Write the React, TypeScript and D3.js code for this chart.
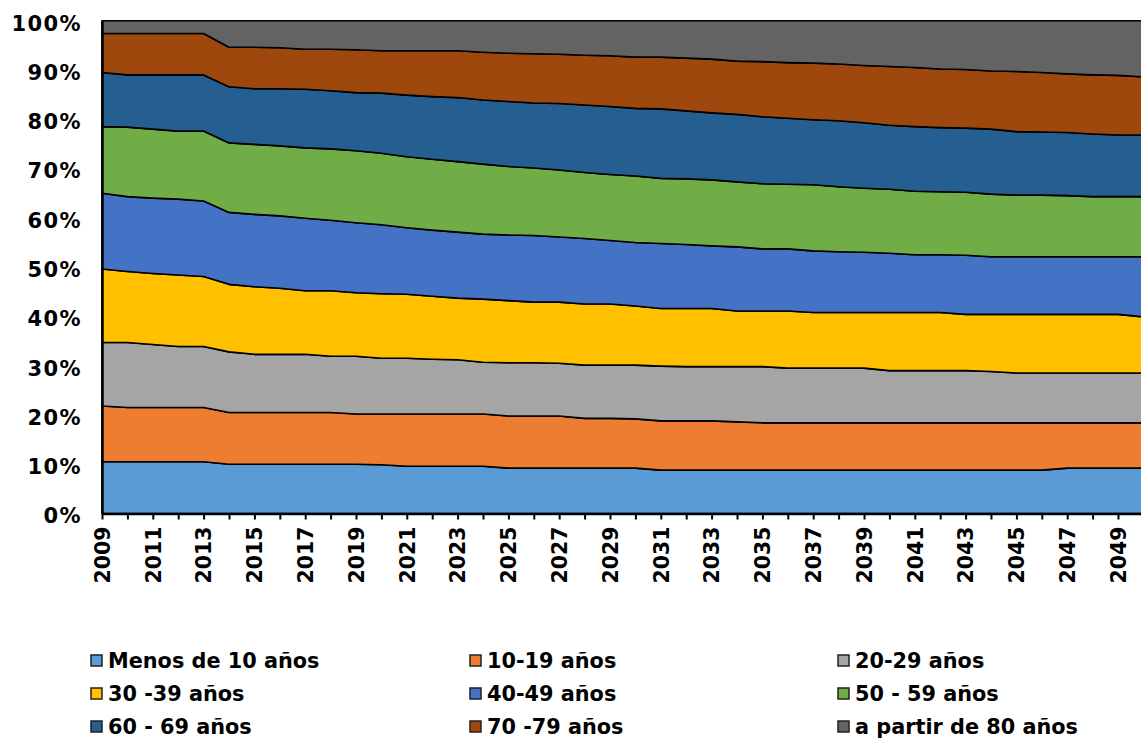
import { useEffect, useRef } from 'react'
import * as d3 from 'd3'

const years = d3.range(2009, 2051)

const seriesNames = [
  'Menos de 10 años',
  '10-19 años',
  '20-29 años',
  '30 -39 años',
  '40-49 años',
  '50 - 59 años',
  '60 - 69 años',
  '70 -79 años',
  'a partir de 80 años',
]

const seriesColors = [
  '#5B9BD5', '#ED7D31', '#A5A5A5', '#FFC000', '#4472C4',
  '#70AD47', '#255E91', '#9E480E', '#636363',
]

// shares per year, 2009 .. 2050 (percent)
const menos10 = [
  10.5, 10.5, 10.5, 10.5, 10.5, 10.0, 10.0, 10.0, 10.0, 10.0, 10.0, 9.9, 9.6, 9.6,
  9.6, 9.6, 9.2, 9.2, 9.2, 9.2, 9.2, 9.2, 8.8, 8.8, 8.8, 8.8, 8.8, 8.8, 8.8, 8.8,
  8.8, 8.8, 8.8, 8.8, 8.8, 8.8, 8.8, 8.8, 9.2, 9.2, 9.2, 9.2,
]
const a10_19 = [
  11.3, 11.0, 11.0, 11.0, 11.0, 10.5, 10.5, 10.5, 10.5, 10.5, 10.2, 10.3, 10.6, 10.6,
  10.6, 10.6, 10.6, 10.6, 10.6, 10.1, 10.1, 10.0, 10.0, 10.0, 10.0, 9.8, 9.6, 9.6,
  9.6, 9.6, 9.6, 9.6, 9.6, 9.6, 9.6, 9.6, 9.6, 9.6, 9.2, 9.2, 9.2, 9.2,
]
const a20_29 = [
  12.9, 13.2, 12.8, 12.4, 12.4, 12.3, 11.8, 11.8, 11.8, 11.4, 11.7, 11.3, 11.3, 11.1,
  11.0, 10.5, 10.8, 10.8, 10.7, 10.8, 10.8, 10.9, 11.1, 11.0, 11.0, 11.2, 11.4, 11.1,
  11.1, 11.1, 11.1, 10.6, 10.6, 10.6, 10.6, 10.4, 10.1, 10.1, 10.1, 10.1, 10.1, 10.1,
]
const a30_39 = [
  14.9, 14.4, 14.4, 14.5, 14.2, 13.7, 13.7, 13.4, 12.9, 13.3, 12.9, 13.1, 13.0, 12.8,
  12.5, 12.8, 12.6, 12.3, 12.4, 12.4, 12.4, 12.0, 11.7, 11.8, 11.8, 11.3, 11.3, 11.6,
  11.3, 11.3, 11.3, 11.8, 11.8, 11.8, 11.4, 11.6, 11.9, 11.9, 11.9, 11.9, 11.9, 11.4,
]
const a40_49 = [
  15.4, 15.2, 15.3, 15.4, 15.3, 14.6, 14.7, 14.7, 14.7, 14.3, 14.2, 14.0, 13.5, 13.4,
  13.4, 13.2, 13.3, 13.5, 13.2, 13.3, 12.9, 12.9, 13.2, 13.0, 12.7, 13.0, 12.6, 12.6,
  12.5, 12.3, 12.2, 12.0, 11.7, 11.7, 12.0, 11.7, 11.7, 11.7, 11.7, 11.7, 11.7, 12.2,
]
const a50_59 = [
  13.5, 14.1, 14.0, 13.8, 14.2, 14.1, 14.2, 14.2, 14.3, 14.5, 14.6, 14.5, 14.4, 14.4,
  14.3, 14.2, 13.9, 13.7, 13.6, 13.4, 13.4, 13.5, 13.2, 13.3, 13.4, 13.2, 13.2, 13.1,
  13.4, 13.2, 13.0, 13.0, 12.9, 12.8, 12.8, 12.7, 12.5, 12.5, 12.4, 12.2, 12.2, 12.2,
]
const a60_69 = [
  11.0, 10.6, 11.0, 11.4, 11.4, 11.4, 11.3, 11.6, 11.9, 11.8, 11.8, 12.2, 12.5, 12.7,
  13.0, 13.0, 13.2, 13.2, 13.5, 13.7, 13.8, 13.7, 14.1, 13.8, 13.6, 13.7, 13.6, 13.4,
  13.2, 13.4, 13.3, 13.0, 13.1, 13.0, 13.0, 13.2, 12.9, 12.8, 12.8, 12.7, 12.5, 12.5,
]
const a70_79 = [
  7.9, 8.4, 8.4, 8.4, 8.4, 8.0, 8.4, 8.3, 8.1, 8.4, 8.7, 8.6, 9.0, 9.3,
  9.5, 9.7, 9.8, 10.0, 10.0, 10.1, 10.3, 10.4, 10.5, 10.7, 10.9, 10.8, 11.2, 11.3,
  11.5, 11.5, 11.6, 11.9, 12.0, 11.9, 11.9, 11.8, 12.2, 12.1, 11.9, 12.0, 12.1, 11.8,
]
const a80plus = [
  2.6, 2.6, 2.6, 2.6, 2.6, 5.4, 5.4, 5.5, 5.8, 5.8, 5.9, 6.1, 6.1, 6.1,
  6.1, 6.4, 6.6, 6.7, 6.8, 7.0, 7.1, 7.4, 7.4, 7.6, 7.8, 8.2, 8.3, 8.5,
  8.6, 8.8, 9.1, 9.3, 9.5, 9.8, 9.9, 10.2, 10.3, 10.5, 10.8, 11.0, 11.1, 11.4,
]

const seriesValues = [menos10, a10_19, a20_29, a30_39, a40_49, a50_59, a60_69, a70_79, a80plus]

const yTicks = d3.range(0, 1.0001, 0.1)

function StackedAreaChart() {
  const svgRef = useRef<SVGSVGElement>(null)

  useEffect(() => {
    if (!svgRef.current) return
    const svg = d3.select(svgRef.current)
    svg.selectAll('*').remove()

    const font = '"DejaVu Sans", Verdana, sans-serif'

    const rows = years.map((year, i) => {
      const row: Record<string, number> = { year }
      seriesNames.forEach((name, s) => { row[name] = seriesValues[s][i] })
      return row
    })

    const stacked = d3.stack<Record<string, number>>()
      .keys(seriesNames)
      .offset(d3.stackOffsetExpand)(rows)

    const x = d3.scaleLinear().domain([2009, 2050]).range([102, 1143.4])
    const y = d3.scaleLinear().domain([0, 1]).range([513.5, 20.7])

    const area = d3.area<d3.SeriesPoint<Record<string, number>>>()
      .x(d => x(d.data.year))
      .y0(d => y(d[0]))
      .y1(d => y(d[1]))

    svg.append('g')
      .selectAll('path')
      .data(stacked)
      .enter()
      .append('path')
      .attr('d', area)
      .attr('fill', (d, i) => seriesColors[i])
      .attr('stroke', '#000')
      .attr('stroke-width', 1.6)
      .attr('stroke-linejoin', 'round')

    // y axis
    const yAxis = svg.append('g')
      .attr('transform', `translate(${x(2009)},0)`)
      .call(d3.axisLeft(y).tickValues(yTicks).tickSize(0).tickPadding(20).tickFormat(d3.format('.0%')))
    yAxis.select('.domain').attr('stroke', '#000').attr('stroke-width', 2.5)
    yAxis.selectAll('text')
      .attr('dy', '0.45em')
      .style('font-family', font)
      .style('font-weight', 'bold')
      .style('font-size', '21px')
      .style('letter-spacing', '1.4px')
      .style('fill', '#000')

    // x axis
    const xAxis = svg.append('g')
      .attr('transform', `translate(0,${y(0)})`)
      .call(
        d3.axisBottom(x)
          .tickValues(years)
          .tickSize(6)
          .tickSizeOuter(0)
          .tickFormat(d => ((d as number) - 2009) % 2 === 0 ? String(d) : '')
      )
    xAxis.select('.domain').attr('stroke', '#000').attr('stroke-width', 2.5)
    xAxis.selectAll('.tick line').attr('stroke', '#000').attr('stroke-width', 2)
    xAxis.selectAll('text')
      .attr('transform', 'rotate(-90)')
      .attr('x', -13)
      .attr('y', 0)
      .attr('dy', '0.36em')
      .style('text-anchor', 'end')
      .style('font-family', font)
      .style('font-weight', 'bold')
      .style('font-size', '20.5px')
      .style('fill', '#000')

    // legend, 3 columns x 3 rows
    const legendCols = [91, 470, 838]
    const legendRows = [661, 694, 727]
    const legend = svg.append('g')
    seriesNames.forEach((name, i) => {
      const lx = legendCols[i % 3]
      const ly = legendRows[Math.floor(i / 3)]
      legend.append('rect')
        .attr('x', lx)
        .attr('y', ly - 6)
        .attr('width', 11)
        .attr('height', 11)
        .attr('fill', seriesColors[i])
        .attr('stroke', '#222')
        .attr('stroke-width', 1.5)
      legend.append('text')
        .attr('x', lx + 17)
        .attr('y', ly)
        .attr('dy', '0.36em')
        .style('font-family', font)
        .style('font-weight', 'bold')
        .style('font-size', '20.8px')
        .text(name)
    })
  }, [])

  return (
    <svg
      ref={svgRef}
      width={1141}
      height={740}
      style={{ position: 'absolute', left: 0, top: 0, background: '#fff' }}
    />
  )
}

export default function App() {
  return <StackedAreaChart />
}
